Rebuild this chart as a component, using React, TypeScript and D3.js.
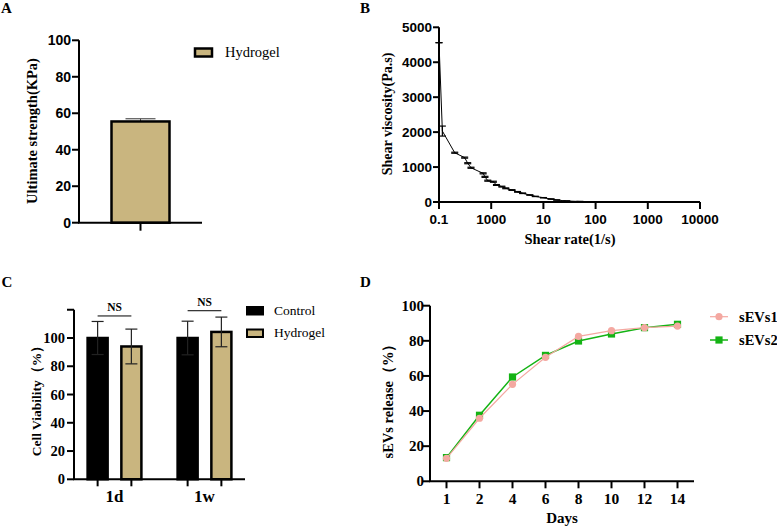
import React from "react";
import { scaleLinear, scaleBand, scaleLog, scalePoint, line } from "d3";

const SANS = "'Liberation Sans', Arial, sans-serif";
const SERIF = "'Liberation Serif', 'Times New Roman', serif";
const TAN = "#c9b57f";
const PINK = "#f4a8a1";
const GREEN = "#14b314";

// A: ultimate strength
const strengthGroups = ["Hydrogel"];
const strengthMean = [55.5];
const strengthErr = [1.5];
const strengthTicks = [0, 20, 40, 60, 80, 100];

// B: shear viscosity vs shear rate
const shearRate = [0.1, 0.116, 0.2, 0.31, 0.355, 0.41, 0.7, 0.76, 0.86, 1.1, 1.26, 1.6, 1.9, 2.5, 3.2, 4, 5.5, 7, 10, 14, 18, 28, 50, 100];
const viscosity = [4560, 2030, 1410, 1270, 1110, 980, 820, 720, 610, 580, 487, 440, 392, 343, 290, 250, 200, 160, 123, 85, 57, 29, 15, 5];
const viscosityErr = [0, 143, 15, 15, 15, 15, 15, 15, 15, 15, 12, 12, 12, 10, 10, 8, 6, 5, 4, 3, 2, 1, 1, 1];
const shearTicks = [0.1, 1, 10, 100, 1000, 10000];
const shearTickLabels = ["0.1", "1000", "10", "100", "1000", "10000"];
const viscTicks = [0, 1000, 2000, 3000, 4000, 5000];

// C: cell viability
const timepoints = ["1d", "1w"];
const viabilityGroups = ["Control", "Hydrogel"];
const controlMean = [100, 100];
const controlErr = [11.7, 11.9];
const hydrogelMean = [94, 104.3];
const hydrogelErr = [12.3, 10.5];
const nsLevel = [115.6, 119.3];
const viabilityTicks = [0, 20, 40, 60, 80, 100];

// D: sEVs release
const days = ["1", "2", "4", "6", "8", "10", "12", "14"];
const sEVs1 = [13.1, 35.9, 55.2, 70.6, 82.5, 85.8, 87.5, 88.4];
const sEVs2 = [13.5, 37.6, 59.4, 71.7, 79.9, 83.9, 87.5, 89.4];
const releaseTicks = [0, 20, 40, 60, 80, 100];

function PanelA() {
  const x = scaleBand().domain(strengthGroups).range([79, 202]).paddingInner(0.5).paddingOuter(0.2625);
  const y = scaleLinear().domain([0, 100]).range([222.7, 40.3]);
  return (
    <g>
      {strengthGroups.map((g, i) => {
        const cx = x(g)! + x.bandwidth() / 2;
        return (
          <g key={g}>
            <line x1={cx} x2={cx} y1={y(strengthMean[i])} y2={y(strengthMean[i] + strengthErr[i])} stroke="#444" strokeWidth={1} />
            <line x1={cx - 15} x2={cx + 15} y1={y(strengthMean[i] + strengthErr[i])} y2={y(strengthMean[i] + strengthErr[i])} stroke="#555" strokeWidth={1.2} />
            <rect x={x(g)! + 1} y={y(strengthMean[i])} width={x.bandwidth() - 2} height={y(0) - y(strengthMean[i])} fill={TAN} stroke="#000" strokeWidth={2.5} />
            <line x1={cx} x2={cx} y1={y(0)} y2={y(0) + 8} stroke="#000" strokeWidth={2} />
          </g>
        );
      })}
      <line x1={79} x2={79} y1={y(100)} y2={y(0)} stroke="#000" strokeWidth={2} />
      <line x1={78} x2={202} y1={y(0)} y2={y(0)} stroke="#000" strokeWidth={2} />
      {strengthTicks.map(t => (
        <g key={t}>
          <line x1={72} x2={79} y1={y(t)} y2={y(t)} stroke="#000" strokeWidth={2} />
          <text x={71} y={y(t) + 5} textAnchor="end" fontFamily={SANS} fontWeight="bold" fontSize={14}>{t}</text>
        </g>
      ))}
      <text transform={`translate(37, 131) rotate(-90)`} textAnchor="middle" fontFamily={SERIF} fontWeight="bold" fontSize={14.5}>Ultimate strength(KPa)</text>
      <rect x={195} y={48.5} width={17} height={8} fill={TAN} stroke="#000" strokeWidth={2.5} />
      <text x={225} y={57} fontFamily={SERIF} fontSize={14.5}>Hydrogel</text>
    </g>
  );
}

function PanelB() {
  const x = scaleLog().domain([0.1, 10000]).range([439, 700]);
  const y = scaleLinear().domain([0, 5000]).range([202, 27.3]);
  const path = line<number>().x((_, i) => x(shearRate[i])).y(d => y(d))(viscosity) || "";
  return (
    <g>
      <path d={path} fill="none" stroke="#000" strokeWidth={1} />
      {viscosity.map((v, i) => {
        const cx = x(shearRate[i]);
        return (
          <g key={i} stroke="#000" strokeWidth={1.2}>
            <line x1={cx} x2={cx} y1={y(v - viscosityErr[i])} y2={y(v + viscosityErr[i])} />
            <line x1={cx - 3.5} x2={cx + 3.5} y1={y(v + viscosityErr[i])} y2={y(v + viscosityErr[i])} />
            <line x1={cx - 3.5} x2={cx + 3.5} y1={y(v - viscosityErr[i])} y2={y(v - viscosityErr[i])} />
          </g>
        );
      })}
      <line x1={439} x2={439} y1={y(5000)} y2={y(0)} stroke="#000" strokeWidth={2} />
      <line x1={438} x2={700} y1={y(0)} y2={y(0)} stroke="#000" strokeWidth={2} />
      {viscTicks.map(t => (
        <g key={t}>
          <line x1={433} x2={439} y1={y(t)} y2={y(t)} stroke="#000" strokeWidth={2} />
          <text x={432} y={y(t) + 5} textAnchor="end" fontFamily={SANS} fontWeight="bold" fontSize={13.5}>{t}</text>
        </g>
      ))}
      {shearTicks.map((t, i) => (
        <g key={i}>
          <line x1={x(t)} x2={x(t)} y1={y(0)} y2={y(0) + 7} stroke="#000" strokeWidth={2} />
          <text x={x(t)} y={224} textAnchor="middle" fontFamily={SANS} fontWeight="bold" fontSize={13.5}>{shearTickLabels[i]}</text>
        </g>
      ))}
      <text x={570} y={244} textAnchor="middle" fontFamily={SERIF} fontWeight="bold" fontSize={14.5}>Shear rate(1/s)</text>
      <text transform={`translate(392, 114) rotate(-90)`} textAnchor="middle" fontFamily={SERIF} fontWeight="bold" fontSize={14}>Shear viscosity(Pa.s)</text>
    </g>
  );
}

function PanelC() {
  const x0 = scaleBand().domain(timepoints).range([74, 245]).paddingInner(0.38).paddingOuter(0.14);
  const x1 = scaleBand().domain(viabilityGroups).range([0, x0.bandwidth()]).paddingInner(0.347);
  const y = scaleLinear().domain([0, 100]).range([479.3, 338]);
  const series = [
    { name: "Control", mean: controlMean, err: controlErr, fill: "#000" },
    { name: "Hydrogel", mean: hydrogelMean, err: hydrogelErr, fill: TAN },
  ];
  return (
    <g>
      {timepoints.map((tp, ti) => (
        <g key={tp}>
          {series.map(s => {
            const bx = x0(tp)! + x1(s.name)!;
            const cx = bx + x1.bandwidth() / 2;
            const m = s.mean[ti];
            const e = s.err[ti];
            return (
              <g key={s.name}>
                <rect x={bx + 1} y={y(m)} width={x1.bandwidth() - 2} height={y(0) - y(m)} fill={s.fill} stroke="#000" strokeWidth={2.5} />
                <g stroke="#222" strokeWidth={1.2}>
                  <line x1={cx} x2={cx} y1={y(m - e)} y2={y(m + e)} />
                  <line x1={cx - 6} x2={cx + 6} y1={y(m + e)} y2={y(m + e)} />
                  <line x1={cx - 6} x2={cx + 6} y1={y(m - e)} y2={y(m - e)} />
                </g>
                <line x1={cx} x2={cx} y1={y(0)} y2={y(0) + 7} stroke="#000" strokeWidth={2} />
              </g>
            );
          })}
          {(() => {
            const a = x0(tp)! + x1("Control")! + x1.bandwidth() / 2;
            const b = x0(tp)! + x1("Hydrogel")! + x1.bandwidth() / 2;
            return (
              <g>
                <line x1={a} x2={b} y1={y(nsLevel[ti])} y2={y(nsLevel[ti])} stroke="#000" strokeWidth={1} />
                <text x={(a + b) / 2} y={y(nsLevel[ti]) - 4.5} textAnchor="middle" fontFamily={SERIF} fontWeight="bold" fontSize={11.5}>NS</text>
              </g>
            );
          })()}
          <text x={x0(tp)! + x0.bandwidth() / 2} y={501.5} textAnchor="middle" fontFamily={SERIF} fontWeight="bold" fontSize={17}>{tp}</text>
        </g>
      ))}
      <line x1={74} x2={74} y1={y(120)} y2={y(0)} stroke="#000" strokeWidth={2} />
      <line x1={73} x2={245} y1={y(0)} y2={y(0)} stroke="#000" strokeWidth={2} />
      {[...viabilityTicks, 120].map(t => (
        <line key={t} x1={67} x2={74} y1={y(t)} y2={y(t)} stroke="#000" strokeWidth={2} />
      ))}
      {viabilityTicks.map(t => (
        <text key={t} x={65} y={y(t) + 5} textAnchor="end" fontFamily={SERIF} fontWeight="bold" fontSize={14.5}>{t}</text>
      ))}
      <text transform={`translate(41, 397.5) rotate(-90)`} textAnchor="middle" fontFamily={SERIF} fontWeight="bold" fontSize={13.5}>Cell Viability（%）</text>
      {series.map((s, i) => (
        <g key={s.name}>
          <rect x={247} y={307 + i * 22.5} width={16} height={7.5} fill={s.fill} stroke="#000" strokeWidth={2} />
          <text x={274} y={315 + i * 21.5} fontFamily={SERIF} fontSize={13.5}>{s.name}</text>
        </g>
      ))}
    </g>
  );
}

function PanelD() {
  const x = scalePoint().domain(days).range([430, 694]).padding(0.5);
  const y = scaleLinear().domain([0, 100]).range([481.3, 305.7]);
  const gen = line<number>().x((_, i) => x(days[i])!).y(d => y(d));
  return (
    <g>
      <path d={gen(sEVs2) || ""} fill="none" stroke={GREEN} strokeWidth={1.5} />
      {sEVs2.map((v, i) => (
        <rect key={i} x={x(days[i])! - 3.6} y={y(v) - 3.6} width={7.2} height={7.2} fill={GREEN} />
      ))}
      <path d={gen(sEVs1) || ""} fill="none" stroke={PINK} strokeWidth={1.2} />
      {sEVs1.map((v, i) => (
        <circle key={i} cx={x(days[i])!} cy={y(v)} r={3.6} fill={PINK} />
      ))}
      <line x1={430} x2={430} y1={y(100)} y2={y(0)} stroke="#000" strokeWidth={2} />
      <line x1={429} x2={694} y1={y(0)} y2={y(0)} stroke="#000" strokeWidth={2} />
      {releaseTicks.map(t => (
        <g key={t}>
          <line x1={423} x2={430} y1={y(t)} y2={y(t)} stroke="#000" strokeWidth={2} />
          <text x={424} y={y(t) + 5} textAnchor="end" fontFamily={SERIF} fontWeight="bold" fontSize={15}>{t}</text>
        </g>
      ))}
      {days.map(d => (
        <g key={d}>
          <line x1={x(d)!} x2={x(d)!} y1={y(0)} y2={y(0) + 7} stroke="#000" strokeWidth={2} />
          <text x={x(d)!} y={504} textAnchor="middle" fontFamily={SERIF} fontWeight="bold" fontSize={15.5}>{d}</text>
        </g>
      ))}
      <text x={562} y={523} textAnchor="middle" fontFamily={SERIF} fontWeight="bold" fontSize={15}>Days</text>
      <text transform={`translate(393, 397.5) rotate(-90)`} textAnchor="middle" fontFamily={SERIF} fontWeight="bold" fontSize={14.5}>sEVs release（%）</text>
      <g>
        <line x1={710} x2={728} y1={316.7} y2={316.7} stroke={PINK} strokeWidth={1.2} />
        <circle cx={719} cy={316.7} r={3.6} fill={PINK} />
        <text x={739} y={321.5} fontFamily={SERIF} fontWeight="bold" fontSize={14.5}>sEVs1</text>
        <line x1={710} x2={728} y1={340} y2={340} stroke={GREEN} strokeWidth={1.5} />
        <rect x={715.4} y={336.4} width={7.2} height={7.2} fill={GREEN} />
        <text x={739} y={345} fontFamily={SERIF} fontWeight="bold" fontSize={14.5}>sEVs2</text>
      </g>
    </g>
  );
}

export default function App() {
  return (
    <svg width={777} height={528} style={{ position: "absolute", left: 0, top: 0, background: "#fff" }}>
      <rect width={777} height={528} fill="#fff" />
      <text x={1} y={12.7} fontFamily={SERIF} fontWeight="bold" fontSize={15}>A</text>
      <text x={360} y={12.7} fontFamily={SERIF} fontWeight="bold" fontSize={15}>B</text>
      <text x={1.5} y={286.7} fontFamily={SERIF} fontWeight="bold" fontSize={15}>C</text>
      <text x={360} y={286.7} fontFamily={SERIF} fontWeight="bold" fontSize={15}>D</text>
      <PanelA />
      <PanelB />
      <PanelC />
      <PanelD />
    </svg>
  );
}
